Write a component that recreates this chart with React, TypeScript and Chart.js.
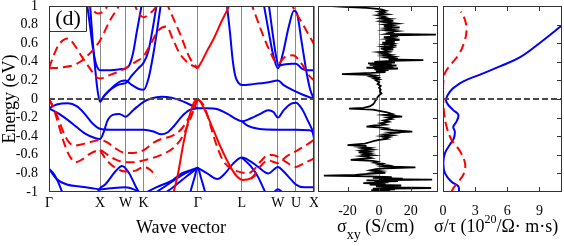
import React, { useEffect, useRef } from "react";
import { Chart, registerables } from "chart.js";

Chart.register(...registerables);

const SERIF = "'Liberation Serif', 'DejaVu Serif', serif";
const BLUE = "#0000ff";
const RED = "#ff0000";
const FRAME = "#333333";

// ---------- panel 1: band structure ----------
const kLabels = ["Γ", "X", "W", "K", "Γ", "L", "W", "U", "X"];
const kTicks = [0, 1, 1.5, 1.854, 2.914, 3.78, 4.487, 4.841, 5.194];
const energyTicks = [-1, -0.8, -0.6, -0.4, -0.2, 0, 0.2, 0.4, 0.6, 0.8, 1];
const energyRange = [-1, 1];

// blue (solid) bands: [k, E]
const blueV1 = [[0, -0.1], [0.15, -0.06], [0.37, -0.045], [0.55, -0.08], [0.7, -0.16], [0.85, -0.26], [1.0, -0.32], [1.2, -0.33], [1.5, -0.33], [1.854, -0.33], [2.05, -0.35], [2.2, -0.38], [2.32, -0.36], [2.45, -0.29], [2.6, -0.19], [2.75, -0.12], [2.914, -0.1]];
const blueV2 = [[0, -0.1], [0.2, -0.16], [0.45, -0.26], [0.7, -0.37], [0.9, -0.42], [1.0, -0.43], [1.07, -0.36], [1.14, -0.24], [1.25, -0.17], [1.38, -0.16], [1.5, -0.19], [1.65, -0.12], [1.854, -0.03], [2.0, 0.005], [2.2, 0.025], [2.4, 0.015], [2.6, -0.02], [2.8, -0.07], [2.914, -0.1]];
const blueV3 = [[2.914, -0.1], [3.1, -0.1], [3.3, -0.11], [3.5, -0.16], [3.65, -0.21], [3.78, -0.24], [3.95, -0.21], [4.14, -0.16], [4.3, -0.12], [4.4, -0.14], [4.487, -0.2], [4.6, -0.12], [4.75, -0.05], [4.841, -0.04], [4.95, -0.1], [5.08, -0.24], [5.194, -0.37]];
const blueV4 = [[3.78, -0.24], [3.9, -0.29], [4.1, -0.32], [4.487, -0.33], [4.841, -0.33], [5.1, -0.335], [5.16, -0.35], [5.194, -0.42]];
const blueL1 = [[0, -0.75], [0.1, -0.81], [0.2, -0.92], [0.3, -1.06]];
const blueL2 = [[0, -0.75], [0.15, -0.86], [0.35, -0.92], [0.6, -0.94], [0.85, -0.96], [1.0, -0.97], [1.2, -0.96], [1.5, -0.95], [1.7, -0.98], [1.854, -1.02]];
const blueL3 = [[0.92, -1.03], [1.0, -0.96], [1.1, -0.92], [1.3, -0.78], [1.43, -0.72], [1.55, -0.78], [1.7, -0.94], [1.8, -1.04]];
const blueL4 = [[1.854, -1.02], [2.1, -0.95], [2.4, -0.88], [2.6, -0.8], [2.8, -0.76], [2.914, -0.74]];
const blueL5 = [[2.0, -1.04], [2.3, -0.93], [2.6, -0.82], [2.914, -0.74]];
const blueL6 = [[2.2, -1.04], [2.45, -0.94], [2.7, -0.83], [2.914, -0.74]];
const blueL7 = [[2.75, -1.04], [2.85, -0.85], [2.914, -0.74], [2.98, -0.85], [3.08, -1.04]];
const blueL8 = [[2.914, -0.74], [3.1, -0.8], [3.3, -0.86], [3.45, -0.8], [3.6, -0.7], [3.78, -0.63], [3.95, -0.67], [4.1, -0.73], [4.3, -0.8], [4.487, -0.73], [4.6, -0.78], [4.75, -0.87], [4.841, -0.92], [5.0, -0.95], [5.194, -0.95]];
const blueL9 = [[3.78, -0.63], [3.95, -0.72], [4.1, -0.84], [4.22, -0.98], [4.28, -1.04]];
const blueL10 = [[4.35, -1.04], [4.487, -0.97], [4.62, -1.03]];
const blueC1 = [[0.74, 1.05], [0.8, 0.8], [0.86, 0.55], [0.92, 0.38], [0.97, 0.32], [1.0, 0.31], [1.2, 0.31], [1.4, 0.32], [1.5, 0.33], [1.58, 0.37], [1.65, 0.5], [1.72, 0.72], [1.78, 0.9], [1.83, 1.05]];
const blueC2 = [[0.8, 1.05], [0.86, 0.6], [0.91, 0.3], [0.95, 0.1], [1.0, -0.03], [1.08, 0.03], [1.25, 0.13], [1.4, 0.19], [1.5, 0.2], [1.6, 0.16], [1.75, 0.11], [1.854, 0.1], [1.95, 0.22], [2.05, 0.5], [2.14, 0.82], [2.2, 1.05]];
const blueC3 = [[1.0, -0.03], [1.1, 0.05], [1.25, 0.12], [1.4, 0.16], [1.5, 0.17], [1.62, 0.25], [1.75, 0.33], [1.854, 0.39], [1.95, 0.52], [2.04, 0.78], [2.12, 1.05]];
const blueC4 = [[3.48, 1.05], [3.55, 0.7], [3.6, 0.42], [3.65, 0.25], [3.72, 0.17], [3.78, 0.15], [4.0, 0.16], [4.3, 0.18], [4.487, 0.2], [4.6, 0.15], [4.8, 0.09], [5.0, 0.04], [5.194, 0.0]];
const blueC5 = [[4.2, 1.05], [4.3, 0.74], [4.4, 0.46], [4.487, 0.33], [4.58, 0.48], [4.7, 0.78], [4.8, 0.95], [4.86, 0.92], [4.95, 0.62], [5.05, 0.28], [5.12, 0.1], [5.194, 0.0]];
const blueC6 = [[4.3, 1.05], [4.38, 0.72], [4.45, 0.46], [4.5, 0.36], [4.6, 0.37], [4.75, 0.38], [4.841, 0.38], [4.95, 0.33], [5.05, 0.31], [5.194, 0.31]];

// red dashed bands
const redC1 = [[0, 0.33], [0.1, 0.48], [0.2, 0.59], [0.37, 0.65], [0.5, 0.58], [0.65, 0.45], [0.8, 0.33], [0.92, 0.24], [1.0, 0.22], [1.15, 0.25], [1.3, 0.28], [1.5, 0.33], [1.7, 0.4], [1.854, 0.46], [2.0, 0.6], [2.15, 0.74], [2.3, 0.78], [2.43, 0.64], [2.55, 0.5], [2.7, 0.4], [2.914, 0.33]];
const redC2 = [[0, 0.33], [0.25, 0.34], [0.55, 0.38], [0.8, 0.49], [1.0, 0.63], [1.2, 0.85], [1.35, 0.98], [1.42, 1.05]];
const redC3 = [[0.7, 1.05], [0.82, 0.98], [0.95, 0.92], [1.08, 0.95], [1.2, 1.05]];
const redC4 = [[1.65, 1.05], [1.75, 0.93], [1.854, 0.88], [2.0, 0.93], [2.15, 1.02], [2.22, 1.05]];
const redC5 = [[2.3, 1.05], [2.34, 0.99], [2.45, 0.85], [2.57, 0.7], [2.76, 0.44], [2.914, 0.33]];
const redC6 = [[3.95, 1.05], [4.05, 0.9], [4.15, 0.75], [4.3, 0.55], [4.487, 0.38], [4.62, 0.45], [4.78, 0.47], [4.95, 0.38], [5.1, 0.25], [5.194, 0.2]];
const redC7 = [[4.72, 1.05], [4.85, 0.92], [5.0, 0.78], [5.1, 0.68], [5.194, 0.59]];
const redV1 = [[0, 0], [0.1, -0.12], [0.2, -0.3], [0.3, -0.48], [0.4, -0.61], [0.52, -0.68], [0.65, -0.65], [0.8, -0.59], [1.0, -0.55], [1.15, -0.6], [1.3, -0.65], [1.5, -0.68], [1.65, -0.68], [1.854, -0.66], [2.0, -0.64], [2.2, -0.6], [2.43, -0.53], [2.63, -0.39], [2.8, -0.17], [2.914, 0]];
const redV2 = [[0, 0], [0.1, -0.1], [0.2, -0.24], [0.3, -0.38], [0.4, -0.47], [0.5, -0.5], [0.7, -0.48], [0.9, -0.45], [1.0, -0.44], [1.15, -0.47], [1.3, -0.53], [1.5, -0.58], [1.65, -0.58], [1.854, -0.55], [2.05, -0.47], [2.2, -0.43], [2.4, -0.4], [2.6, -0.32], [2.78, -0.16], [2.914, 0]];
const redV3 = [[1.0, -0.55], [1.12, -0.65], [1.3, -0.74], [1.5, -0.78], [1.7, -0.77], [1.854, -0.73], [2.0, -0.77], [2.1, -0.84]];
const redV4 = [[2.914, 0], [3.02, -0.06], [3.12, -0.2], [3.22, -0.39], [3.32, -0.55], [3.42, -0.67], [3.61, -0.76], [3.78, -0.79], [3.9, -0.8], [4.0, -0.77], [4.15, -0.67], [4.3, -0.6], [4.487, -0.62], [4.65, -0.68], [4.841, -0.73], [5.0, -0.69], [5.194, -0.64]];
const redV5 = [[3.95, -0.86], [4.05, -0.8], [4.15, -0.72], [4.3, -0.66], [4.487, -0.69], [4.65, -0.62], [4.841, -0.56], [5.0, -0.51], [5.194, -0.44]];
// red solid bands
const redS1 = [[2.43, -1.03], [2.53, -0.8], [2.63, -0.49], [2.76, -0.17], [2.85, -0.03], [2.914, 0], [2.98, -0.04], [3.08, -0.15], [3.22, -0.33], [3.35, -0.5], [3.48, -0.65], [3.6, -0.77], [3.68, -0.83], [3.8, -0.87], [3.97, -0.85], [4.05, -0.82]];
const redS2 = [[2.914, 0.33], [3.0, 0.41], [3.1, 0.52], [3.22, 0.64], [3.37, 0.82], [3.52, 0.99], [3.56, 1.05]];

const blueBands = [blueV1, blueV2, blueV3, blueV4, blueL1, blueL2, blueL3, blueL4, blueL5, blueL6, blueL7, blueL8, blueL9, blueL10, blueC1, blueC2, blueC3, blueC4, blueC5, blueC6];
const redDashedBands = [redC1, redC2, redC3, redC4, redC5, redC6, redC7, redV1, redV2, redV3, redV4, redV5];
const redSolidBands = [redS1, redS2];

// ---------- panel 2: sigma_xy, [E, sigma_xy] ----------
const sxyRange = [-38.7, 37.3];
const sxyTicks = [-20, 0, 20];
const sxyCurve = [
  [1.0, -30], [0.99, -22], [0.98, -8], [0.97, -1], [0.96, 2], [0.95, 4], [0.94, 0], [0.93, 3], [0.92, 1], [0.91, 5],
  [0.9, -1], [0.89, 2], [0.88, 4], [0.87, 1], [0.86, 7], [0.85, 3], [0.84, 9], [0.83, 2], [0.82, 6], [0.81, 11],
  [0.8, 4], [0.79, 8], [0.78, 3], [0.77, 13], [0.76, 5], [0.75, 9], [0.74, 4], [0.73, 11], [0.72, 6], [0.71, 8],
  [0.7, 5], [0.693, 36], [0.685, 7], [0.675, 12], [0.665, 3], [0.655, 9], [0.645, 5], [0.635, 13], [0.625, 4], [0.615, 10],
  [0.605, 2], [0.595, 8], [0.585, 4], [0.575, 11], [0.565, 3], [0.555, 7], [0.545, 1], [0.535, 9], [0.525, 4], [0.515, 6],
  [0.505, 0], [0.495, 5], [0.485, 2], [0.475, 7], [0.465, 3], [0.455, 9], [0.445, 5], [0.435, 12], [0.425, 6], [0.418, 28],
  [0.41, 7], [0.4, -3], [0.392, 10], [0.384, -7], [0.376, 8], [0.368, -6], [0.36, 11], [0.352, -4], [0.344, 9], [0.336, -8],
  [0.328, 12], [0.32, -3], [0.312, 6], [0.3, -2], [0.29, 4], [0.28, -5], [0.268, -23.5], [0.26, -6], [0.25, -2], [0.24, -5],
  [0.23, -1], [0.22, -3], [0.21, 0], [0.2, -2], [0.18, 0], [0.16, -1], [0.14, 1], [0.12, 0], [0.1, 1], [0.08, 0.5],
  [0.06, 1.5], [0.04, 0], [0.02, -1], [0.0, -1.5], [-0.02, -2.5], [-0.04, -3], [-0.06, -4], [-0.08, -6], [-0.095, -10], [-0.104, -19],
  [-0.115, -4], [-0.13, 1], [-0.145, 5], [-0.16, 8], [-0.17, 3], [-0.18, 9], [-0.189, 14.6], [-0.2, 5], [-0.215, 8], [-0.23, 3],
  [-0.245, 6], [-0.26, 1], [-0.275, 4], [-0.285, -3], [-0.296, -8], [-0.305, 0], [-0.315, 5], [-0.325, 3], [-0.335, 9], [-0.35, 21],
  [-0.36, 7], [-0.37, 10], [-0.38, 4], [-0.39, 8], [-0.4, 2], [-0.41, 6], [-0.42, 3], [-0.43, 5], [-0.44, 0], [-0.45, -3],
  [-0.465, -6], [-0.48, -9], [-0.496, -20], [-0.505, -8], [-0.515, -12], [-0.525, -6], [-0.535, -10], [-0.545, -5], [-0.555, -11], [-0.565, -7],
  [-0.575, -13], [-0.585, -6], [-0.595, -9], [-0.605, -4], [-0.615, -11], [-0.625, -7], [-0.635, -5], [-0.645, -12], [-0.654, -18], [-0.665, -4],
  [-0.675, -1], [-0.685, -3], [-0.695, 2], [-0.705, 0], [-0.715, 6], [-0.725, 3], [-0.736, 23], [-0.745, 4], [-0.755, -2], [-0.765, -5],
  [-0.775, 1], [-0.785, -3], [-0.795, 4], [-0.805, -7], [-0.815, -15], [-0.825, -35], [-0.832, -6], [-0.84, 8], [-0.848, -4], [-0.856, 15],
  [-0.862, 0], [-0.868, 33.6], [-0.875, -8], [-0.882, 12], [-0.89, -3], [-0.897, 6], [-0.905, -10], [-0.912, 4], [-0.92, -6], [-0.93, 14],
  [-0.94, -2], [-0.95, 9], [-0.957, 33], [-0.965, -4], [-0.972, 10], [-0.98, -5], [-0.99, 7], [-1.0, 3],
];

// ---------- panel 3: sigma/tau ----------
const stRange = [0, 11.1];
const stTicks = [0, 3, 6, 9];
const stBlueEnergy = [-1.0, -0.94, -0.89, -0.8, -0.69, -0.58, -0.49, -0.42, -0.35, -0.3, -0.24, -0.17, -0.12, -0.05, 0.0, 0.08, 0.13, 0.19, 0.26, 0.35, 0.45, 0.6, 0.79, 0.85];
const stBlueValue = [1.5, 1.43, 0.8, 0.19, 0.03, 0.19, 0.65, 1.02, 1.1, 0.96, 1.27, 1.43, 0.96, 0.4, 0.28, 0.65, 1.1, 1.9, 3.4, 5.3, 7.2, 9.0, 11.07, 11.6];
const stRedEnergy = [-1.0, -0.96, -0.89, -0.8, -0.69, -0.56, -0.44, -0.3, -0.15, 0.02, 0.17, 0.28, 0.38, 0.47, 0.6, 0.74, 0.85, 0.94];
const stRedValue = [0.8, 0.96, 1.43, 1.95, 2.05, 1.58, 0.8, 0.34, 0.1, 0.02, 0.02, 0.19, 0.8, 1.43, 1.95, 2.2, 2.05, 1.67];

// ---------- helpers ----------
const toPts = (band: number[][]) => band.map(([k, e]) => ({ x: k, y: e }));
const zip = (xs: number[], ys: number[]) => xs.map((x, i) => ({ x, y: ys[i] }));
const fmtE = (v: number) => (Math.abs(v) < 1e-9 ? "0" : String(parseFloat(v.toFixed(1))));
const innerE = energyTicks.slice(1, -1);

function drawZero(chart: any) {
  const { ctx, chartArea: a, scales } = chart;
  const y = scales.y.getPixelForValue(0);
  ctx.save();
  ctx.beginPath();
  ctx.setLineDash([6, 3]);
  ctx.lineWidth = 2;
  ctx.strokeStyle = "#4a4a4a";
  ctx.moveTo(a.left, y);
  ctx.lineTo(a.right, y);
  ctx.stroke();
  ctx.restore();
}
function drawFrame(chart: any) {
  const { ctx, chartArea: a } = chart;
  ctx.save();
  ctx.lineWidth = 1;
  ctx.strokeStyle = FRAME;
  ctx.strokeRect(a.left + 0.5, a.top + 0.5, a.right - a.left - 1, a.bottom - a.top - 1);
  ctx.restore();
}
function drawInTicks(chart: any, xVals: number[], yVals: number[]) {
  const { ctx, chartArea: a, scales } = chart;
  ctx.save();
  ctx.lineWidth = 1;
  ctx.strokeStyle = FRAME;
  ctx.beginPath();
  yVals.forEach((v) => {
    const y = Math.round(scales.y.getPixelForValue(v)) + 0.5;
    ctx.moveTo(a.right, y);
    ctx.lineTo(a.right - 5, y);
  });
  xVals.forEach((v) => {
    const x = Math.round(scales.x.getPixelForValue(v)) + 0.5;
    ctx.moveTo(x, a.bottom);
    ctx.lineTo(x, a.bottom - 5);
    ctx.moveTo(x, a.top);
    ctx.lineTo(x, a.top + 5);
  });
  ctx.stroke();
  ctx.restore();
}
function textRun(ctx: any, parts: { t: string; size: number; dy: number }[], x: number, y: number) {
  let cx = x;
  parts.forEach((p) => {
    ctx.font = `${p.size}px ${SERIF}`;
    ctx.fillText(p.t, cx, y + p.dy);
    cx += ctx.measureText(p.t).width;
  });
}

const tickFont = { family: SERIF, size: 14 };

function xAxisFit(s: any) {
  s.height = 54;
  s.paddingLeft = 0;
  s.paddingRight = 0;
}

function bandConfig(): any {
  const ds: any[] = [];
  const mk = (band: number[][], color: string, dash: number[]) => ({
    data: toPts(band),
    borderColor: color,
    borderWidth: 2,
    borderDash: dash,
    pointRadius: 0,
    fill: false,
    cubicInterpolationMode: "monotone",
    clip: 0,
  });
  redDashedBands.forEach((b) => ds.push(mk(b, RED, [9, 5])));
  redSolidBands.forEach((b) => ds.push(mk(b, RED, [])));
  blueBands.forEach((b) => ds.push(mk(b, BLUE, [])));
  return {
    type: "line",
    data: { datasets: ds },
    options: {
      animation: false,
      responsive: false,
      devicePixelRatio: 1,
      events: [],
      layout: { padding: { left: 0, right: 4, top: 6, bottom: 0 } },
      plugins: { legend: { display: false }, tooltip: { enabled: false } },
      scales: {
        x: {
          type: "linear",
          min: kTicks[0],
          max: kTicks[kTicks.length - 1],
          afterBuildTicks: (s: any) => {
            s.ticks = kTicks.map((v) => ({ value: v }));
          },
          ticks: {
            font: tickFont,
            color: "#000",
            padding: 3,
            autoSkip: false,
            maxRotation: 0,
            callback: (_v: any, i: number) => kLabels[i],
          },
          grid: { drawTicks: false, color: "#8a8a8a", lineWidth: 1 },
          border: { display: false },
          afterFit: xAxisFit,
        },
        y: {
          type: "linear",
          min: energyRange[0],
          max: energyRange[1],
          afterBuildTicks: (s: any) => {
            s.ticks = energyTicks.map((v) => ({ value: v }));
          },
          ticks: { font: tickFont, color: "#000", padding: 3, autoSkip: false, callback: (v: number) => fmtE(v) },
          grid: { display: false },
          border: { display: false },
          afterFit: (s: any) => {
            s.width = 49;
            s.paddingTop = 0;
            s.paddingBottom = 0;
          },
        },
      },
    },
    plugins: [
      {
        id: "bandOverlay",
        afterDatasetsDraw(chart: any) {
          const { ctx, chartArea: a } = chart;
          drawZero(chart);
          drawFrame(chart);
          ctx.save();
          ctx.fillStyle = "#fff";
          ctx.fillRect(a.left + 1, a.top + 1, 36, 24);
          ctx.strokeStyle = FRAME;
          ctx.lineWidth = 1;
          ctx.beginPath();
          ctx.moveTo(a.left + 37.5, a.top);
          ctx.lineTo(a.left + 37.5, a.top + 25.5);
          ctx.lineTo(a.left, a.top + 25.5);
          ctx.stroke();
          ctx.fillStyle = "#000";
          ctx.font = `22px ${SERIF}`;
          ctx.textAlign = "center";
          ctx.textBaseline = "middle";
          ctx.fillText("(d)", a.left + 19, a.top + 13);
          ctx.font = `18px ${SERIF}`;
          ctx.textBaseline = "alphabetic";
          ctx.fillText("Wave vector", 181, 233);
          ctx.translate(14.5, 99);
          ctx.rotate(-Math.PI / 2);
          ctx.fillText("Energy (eV)", 0, 0);
          ctx.restore();
        },
      },
    ],
  };
}

function sxyConfig(): any {
  return {
    type: "line",
    data: {
      datasets: [
        {
          data: sxyCurve.map(([e, s]) => ({ x: s, y: e })),
          borderColor: "#000",
          borderWidth: 1.8,
          pointRadius: 0,
          fill: false,
          tension: 0,
          clip: 0,
        },
      ],
    },
    options: {
      animation: false,
      responsive: false,
      devicePixelRatio: 1,
      events: [],
      layout: { padding: { left: 2, right: 2, top: 6, bottom: 0 } },
      plugins: { legend: { display: false }, tooltip: { enabled: false } },
      scales: {
        x: {
          type: "linear",
          min: sxyRange[0],
          max: sxyRange[1],
          afterBuildTicks: (s: any) => {
            s.ticks = sxyTicks.map((v) => ({ value: v }));
          },
          ticks: { font: tickFont, color: "#000", padding: 3, autoSkip: false, maxRotation: 0, callback: (v: number) => String(v) },
          grid: { display: false },
          border: { display: false },
          afterFit: xAxisFit,
        },
        y: { type: "linear", min: energyRange[0], max: energyRange[1], display: false },
      },
    },
    plugins: [
      {
        id: "sxyOverlay",
        beforeDatasetsDraw(chart: any) {
          const { ctx, chartArea: a, scales } = chart;
          const x = Math.round(scales.x.getPixelForValue(0)) + 0.5;
          ctx.save();
          ctx.strokeStyle = "#8a8a8a";
          ctx.lineWidth = 1;
          ctx.beginPath();
          ctx.moveTo(x, a.top);
          ctx.lineTo(x, a.bottom);
          ctx.stroke();
          ctx.restore();
        },
        afterDatasetsDraw(chart: any) {
          const { ctx } = chart;
          drawZero(chart);
          drawFrame(chart);
          drawInTicks(chart, sxyTicks, innerE);
          ctx.save();
          ctx.fillStyle = "#000";
          ctx.textBaseline = "alphabetic";
          textRun(ctx, [
            { t: "σ", size: 18, dy: 0 },
            { t: "xy", size: 14, dy: 7 },
            { t: " (S/cm)", size: 18, dy: 0 },
          ], 21, 232);
          ctx.restore();
        },
      },
    ],
  };
}

function stConfig(): any {
  return {
    type: "line",
    data: {
      datasets: [
        {
          data: zip(stRedValue, stRedEnergy),
          borderColor: RED,
          borderWidth: 2,
          borderDash: [9, 5],
          pointRadius: 0,
          fill: false,
          tension: 0.4,
          clip: 0,
        },
        {
          data: zip(stBlueValue, stBlueEnergy),
          borderColor: BLUE,
          borderWidth: 2,
          pointRadius: 0,
          fill: false,
          tension: 0.4,
          clip: 0,
        },
      ],
    },
    options: {
      animation: false,
      responsive: false,
      devicePixelRatio: 1,
      events: [],
      layout: { padding: { left: 19, right: 2, top: 6, bottom: 0 } },
      plugins: { legend: { display: false }, tooltip: { enabled: false } },
      scales: {
        x: {
          type: "linear",
          min: stRange[0],
          max: stRange[1],
          afterBuildTicks: (s: any) => {
            s.ticks = stTicks.map((v) => ({ value: v }));
          },
          ticks: { font: tickFont, color: "#000", padding: 3, autoSkip: false, maxRotation: 0, callback: (v: number) => String(v) },
          grid: { display: false },
          border: { display: false },
          afterFit: xAxisFit,
        },
        y: { type: "linear", min: energyRange[0], max: energyRange[1], display: false },
      },
    },
    plugins: [
      {
        id: "stOverlay",
        afterDatasetsDraw(chart: any) {
          const { ctx } = chart;
          drawZero(chart);
          drawFrame(chart);
          drawInTicks(chart, stTicks.slice(1), innerE);
          ctx.save();
          ctx.fillStyle = "#000";
          ctx.textBaseline = "alphabetic";
          textRun(ctx, [
            { t: "σ/τ (10", size: 18, dy: 0 },
            { t: "20", size: 12, dy: -9 },
            { t: "/Ω· m·s)", size: 18, dy: 0 },
          ], 10, 232);
          ctx.restore();
        },
      },
    ],
  };
}

export default function App() {
  const r1 = useRef<HTMLCanvasElement>(null);
  const r2 = useRef<HTMLCanvasElement>(null);
  const r3 = useRef<HTMLCanvasElement>(null);

  useEffect(() => {
    const charts: Chart[] = [];
    if (r1.current) charts.push(new Chart(r1.current, bandConfig()));
    if (r2.current) charts.push(new Chart(r2.current, sxyConfig()));
    if (r3.current) charts.push(new Chart(r3.current, stConfig()));
    return () => charts.forEach((c) => c.destroy());
  }, []);

  return (
    <div style={{ position: "absolute", left: 0, top: 0, width: 564, height: 246, background: "#fff", overflow: "hidden" }}>
      <canvas ref={r1} width={318} height={246} style={{ position: "absolute", left: 0, top: 0, width: 318, height: 246 }} />
      <canvas ref={r2} width={124} height={246} style={{ position: "absolute", left: 316, top: 0, width: 124, height: 246 }} />
      <canvas ref={r3} width={140} height={246} style={{ position: "absolute", left: 424, top: 0, width: 140, height: 246 }} />
    </div>
  );
}
